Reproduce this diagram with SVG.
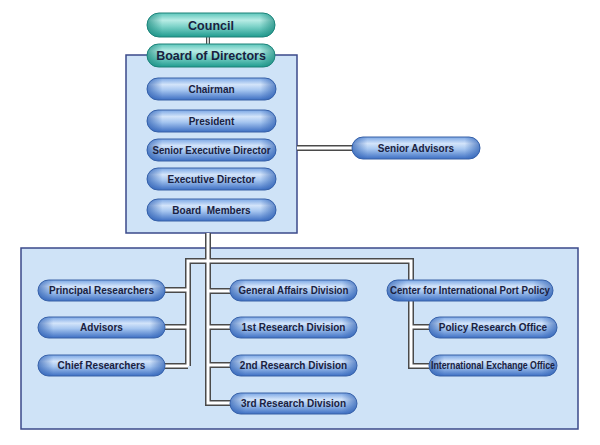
<svg xmlns="http://www.w3.org/2000/svg" width="600" height="445" viewBox="0 0 600 445">
<defs>
<linearGradient id="gBlue" x1="0" y1="0" x2="0" y2="1">
<stop offset="0" stop-color="#7aa6e4"/>
<stop offset="0.3" stop-color="#d3e4fa"/>
<stop offset="0.55" stop-color="#a6c6f0"/>
<stop offset="1" stop-color="#3d6fc3"/>
</linearGradient>
<linearGradient id="gTeal" x1="0" y1="0" x2="0" y2="1">
<stop offset="0" stop-color="#5cc6bb"/>
<stop offset="0.3" stop-color="#b8ece5"/>
<stop offset="0.55" stop-color="#80d4ca"/>
<stop offset="1" stop-color="#1f9b8f"/>
</linearGradient>
<linearGradient id="gEdgeB" x1="0" y1="0" x2="1" y2="0">
<stop offset="0" stop-color="#2a5cb0" stop-opacity="0.7"/>
<stop offset="0.12" stop-color="#2a5cb0" stop-opacity="0"/>
<stop offset="0.88" stop-color="#2a5cb0" stop-opacity="0"/>
<stop offset="1" stop-color="#2a5cb0" stop-opacity="0.7"/>
</linearGradient>
<linearGradient id="gEdgeT" x1="0" y1="0" x2="1" y2="0">
<stop offset="0" stop-color="#17877c" stop-opacity="0.7"/>
<stop offset="0.12" stop-color="#17877c" stop-opacity="0"/>
<stop offset="0.88" stop-color="#17877c" stop-opacity="0"/>
<stop offset="1" stop-color="#17877c" stop-opacity="0.7"/>
</linearGradient>
</defs>
<style>
.box{fill:#cfe3f7;stroke:#3b4a8a;stroke-width:1.5}
.pb{fill:url(#gBlue);stroke:#3a62a6;stroke-width:1}
.eb{fill:url(#gEdgeB)}
.pt{fill:url(#gTeal);stroke:#1e8279;stroke-width:1}
.et{fill:url(#gEdgeT)}
.lab{font-family:"Liberation Sans",Arial,sans-serif;font-weight:bold;font-size:10px;fill:#1a2140;text-anchor:middle}
.big{font-size:12.5px}
.co{fill:none;stroke:#4a4a4a;stroke-width:6}
.ci{fill:none;stroke:#ffffff;stroke-width:3}
</style>
<rect class="box" x="126" y="55" width="171" height="178"/>
<rect class="box" x="21" y="248" width="557" height="181"/>
<g id="connectors">
<g class="co">
<path d="M208 37V44" stroke-width="4"/>
<path d="M297 148H353"/>
<path d="M208 233V403H231"/>
<path d="M188 366V261H411V366H430"/>
<path d="M165 290H188M165 327H188M165 366H188"/>
<path d="M208 291H231M208 327H231M208 365H231"/>
<path d="M411 327H430"/>
</g>
<g class="ci">
<path d="M208 37V44" stroke-width="1.5"/>
<path d="M297 148H353"/>
<path d="M208 233V403H231"/>
<path d="M188 366V261H411V366H430"/>
<path d="M165 290H188M165 327H188M165 366H188"/>
<path d="M208 291H231M208 327H231M208 365H231"/>
<path d="M411 327H430"/>
</g>
</g>
<g id="council"><rect class="pt" x="147" y="13" width="128" height="24" rx="12"/><rect class="et" x="147" y="13" width="128" height="24" rx="12"/><text class="lab big" x="211" y="29.5">Council</text></g>
<g id="board"><rect class="pt" x="147" y="44" width="128" height="23" rx="11.5"/><rect class="et" x="147" y="44" width="128" height="23" rx="11.5"/><text class="lab big" x="211" y="60">Board of Directors</text></g>
<g id="chairman"><rect class="pb" x="147" y="78" width="129" height="22" rx="11"/><rect class="eb" x="147" y="78" width="129" height="22" rx="11"/><text class="lab" x="211.5" y="92.5">Chairman</text></g>
<g id="president"><rect class="pb" x="147" y="110" width="129" height="22" rx="11"/><rect class="eb" x="147" y="110" width="129" height="22" rx="11"/><text class="lab" x="211.5" y="124.5">President</text></g>
<g id="sed"><rect class="pb" x="147" y="139" width="129" height="22" rx="11"/><rect class="eb" x="147" y="139" width="129" height="22" rx="11"/><text class="lab" x="211.5" y="153.5" textLength="118" lengthAdjust="spacingAndGlyphs">Senior Executive Director</text></g>
<g id="ed"><rect class="pb" x="147" y="168" width="129" height="22" rx="11"/><rect class="eb" x="147" y="168" width="129" height="22" rx="11"/><text class="lab" x="211.5" y="182.5">Executive Director</text></g>
<g id="members"><rect class="pb" x="147" y="199" width="129" height="22" rx="11"/><rect class="eb" x="147" y="199" width="129" height="22" rx="11"/><text class="lab" x="211.5" y="213.5" style="white-space:pre">Board  Members</text></g>
<g id="senioradvisors"><rect class="pb" x="352" y="137" width="128" height="22" rx="11"/><rect class="eb" x="352" y="137" width="128" height="22" rx="11"/><text class="lab" x="416" y="151.5">Senior Advisors</text></g>
<g id="principal"><rect class="pb" x="38" y="280" width="127" height="21" rx="10.5"/><rect class="eb" x="38" y="280" width="127" height="21" rx="10.5"/><text class="lab" x="101.5" y="294">Principal Researchers</text></g>
<g id="advisors"><rect class="pb" x="38" y="317" width="127" height="21" rx="10.5"/><rect class="eb" x="38" y="317" width="127" height="21" rx="10.5"/><text class="lab" x="101.5" y="331">Advisors</text></g>
<g id="chief"><rect class="pb" x="38" y="355" width="127" height="21" rx="10.5"/><rect class="eb" x="38" y="355" width="127" height="21" rx="10.5"/><text class="lab" x="101.5" y="369">Chief Researchers</text></g>
<g id="general"><rect class="pb" x="230" y="280" width="127" height="21" rx="10.5"/><rect class="eb" x="230" y="280" width="127" height="21" rx="10.5"/><text class="lab" x="293.5" y="294" textLength="110" lengthAdjust="spacingAndGlyphs">General Affairs Division</text></g>
<g id="first"><rect class="pb" x="230" y="317" width="127" height="21" rx="10.5"/><rect class="eb" x="230" y="317" width="127" height="21" rx="10.5"/><text class="lab" x="293.5" y="331">1st Research Division</text></g>
<g id="second"><rect class="pb" x="230" y="355" width="127" height="21" rx="10.5"/><rect class="eb" x="230" y="355" width="127" height="21" rx="10.5"/><text class="lab" x="293.5" y="369">2nd Research Division</text></g>
<g id="third"><rect class="pb" x="230" y="393" width="127" height="21" rx="10.5"/><rect class="eb" x="230" y="393" width="127" height="21" rx="10.5"/><text class="lab" x="293.5" y="407">3rd Research Division</text></g>
<g id="center"><rect class="pb" x="387" y="280" width="166" height="21" rx="10.5"/><rect class="eb" x="387" y="280" width="166" height="21" rx="10.5"/><text class="lab" x="470" y="294" textLength="160" lengthAdjust="spacingAndGlyphs">Center for International Port Policy</text></g>
<g id="policy"><rect class="pb" x="429" y="317" width="128" height="21" rx="10.5"/><rect class="eb" x="429" y="317" width="128" height="21" rx="10.5"/><text class="lab" x="493" y="331">Policy Research Office</text></g>
<g id="exchange"><rect class="pb" x="429" y="355" width="128" height="21" rx="10.5"/><rect class="eb" x="429" y="355" width="128" height="21" rx="10.5"/><text class="lab" x="493" y="369" textLength="124" lengthAdjust="spacingAndGlyphs">International Exchange Office</text></g>
</svg>
